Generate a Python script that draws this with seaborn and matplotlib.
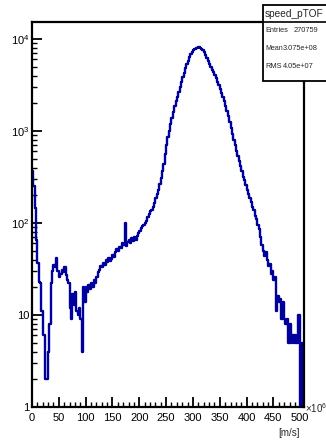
import numpy as np
import pandas as pd
import matplotlib
matplotlib.use("Agg")
import matplotlib.pyplot as plt
import matplotlib.ticker as mticker
from matplotlib.patches import Rectangle
import seaborn as sns

# ---- data (speed in units of 10^6 m/s, bin width 2.5) ----
bin_width = 2.5
x_min = 0.0
counts_000_050 = [367, 250, 145, 65, 37, 23, 22, 11, 6, 6, 2, 2, 4, 8, 22, 30, 35, 33, 42, 30]
counts_050_100 = [26, 28, 31, 29, 33, 27, 24, 22, 12, 9, 17, 13, 18, 11, 10, 12, 9, 4, 20, 14]
counts_100_150 = [20, 18, 21, 19, 22, 20, 24, 22, 26, 29, 31, 34, 33, 37, 35, 40, 38, 42, 39, 41]
counts_150_200 = [45, 43, 48, 52, 50, 55, 54, 60, 58, 100, 56, 62, 66, 60, 68, 64, 70, 66, 72, 78]
counts_200_250 = [82, 88, 92, 96, 100, 104, 115, 125, 135, 140, 150, 165, 185, 205, 230, 265, 310, 370, 440, 560]
counts_250_300 = [700, 850, 1000, 1200, 1400, 1600, 1850, 2100, 2350, 2650, 3000, 3400, 3850, 4300, 4800, 5300, 5800, 6300, 6800, 7200]
counts_300_350 = [7500, 7750, 7900, 8050, 8100, 8000, 7850, 7550, 7150, 6700, 6250, 5800, 5400, 5000, 4650, 4350, 4100, 3750, 3450, 3150]
counts_350_400 = [2850, 2600, 2350, 2100, 1850, 1650, 1450, 1250, 1080, 920, 800, 700, 610, 530, 470, 420, 370, 320, 290, 260]
counts_400_450 = [230, 205, 185, 170, 150, 140, 120, 110, 95, 85, 70, 58, 50, 44, 48, 40, 34, 36, 28, 30]
counts_450_508 = [24, 26, 11, 16, 14, 15, 9, 14, 9, 8, 9, 5, 8, 5, 6, 5, 6, 5, 10, 10, 0, 5, 3]

counts = (counts_000_050 + counts_050_100 + counts_100_150 + counts_150_200 +
          counts_200_250 + counts_250_300 + counts_300_350 + counts_350_400 +
          counts_400_450 + counts_450_508)
x_ticks = [0, 50, 100, 150, 200, 250, 300, 350, 400, 450, 500]
hist_name = "speed_pTOF"
entries = "270759"
mean_txt = "3.075e+08"
rms_txt = "4.05e+07"

n = len(counts)
edges = [float(x_min + bin_width * i) for i in range(n + 1)]
centers = [0.5 * (edges[i] + edges[i + 1]) for i in range(n)]
df = pd.DataFrame({"speed": centers, "count": counts})

W, H = 326, 441
fig = plt.figure(figsize=(W / 100, H / 100), dpi=100)
sns.set_style("white")
plt.rcParams["font.family"] = ["Liberation Sans", "DejaVu Sans"]
plt.rcParams["mathtext.fontset"] = "custom"
plt.rcParams["mathtext.rm"] = "Liberation Sans"
plt.rcParams["mathtext.it"] = "Liberation Sans"

L, R, B, T = 32 / W, 304 / W, 1 - 407 / H, 1 - 22 / H
ax = fig.add_axes([L, B, R - L, T - B])
ax.set_facecolor("white")

sns.histplot(data=df, x="speed", weights="count", bins=edges, element="step",
             fill=False, color="#00009c", linewidth=1.7, ax=ax)
ax.set_yscale("log")
ax.set_xlim(0, 507)
ax.set_ylim(1, 10 ** ((407 - 22) / 92))
ax.set_xlabel("")
ax.set_ylabel("")

# ticks (ROOT style: inward, left & bottom)
ax.set_xticks(x_ticks)
ax.xaxis.set_minor_locator(mticker.MultipleLocator(10))
ax.yaxis.set_major_locator(mticker.LogLocator(base=10, numticks=10))
ax.yaxis.set_minor_locator(mticker.LogLocator(base=10, subs=np.arange(2, 10), numticks=20))
ax.yaxis.set_minor_formatter(mticker.NullFormatter())

def yfmt(v, pos):
    e = int(round(np.log10(v)))
    if e == 0:
        return "1"
    if e == 1:
        return "10"
    return r"$10^{%d}$" % e

ax.yaxis.set_major_formatter(mticker.FuncFormatter(yfmt))
ax.tick_params(axis="both", which="major", direction="in", length=7, width=1.3,
               labelsize=8, colors="black", left=True, bottom=True,
               top=False, right=False)
ax.tick_params(axis="both", which="minor", direction="in", length=3.5, width=1.0,
               colors="black", left=True, bottom=True, top=False, right=False)
ax.tick_params(axis="x", which="major", pad=4)
ax.tick_params(axis="y", which="major", pad=2)
for s in ax.spines.values():
    s.set_color("black")
    s.set_linewidth(1.6)
    s.set_visible(True)

# axis annotations
fig.text(305 / W, 1 - 408 / H, r"$\times10^{6}$", fontsize=7, ha="left", va="center")
fig.text(300 / W, 1 - 433 / H, "[m/s]", fontsize=7, ha="right", va="center")

# stats box
bx0, by0, by1, bsep = 263, 5, 81, 22
box = Rectangle((bx0 / W, 1 - by1 / H), (W + 10 - bx0) / W, (by1 - by0) / H,
                transform=fig.transFigure, facecolor="white", edgecolor="black",
                linewidth=1.3, zorder=5, clip_on=False)
fig.add_artist(box)
fig.add_artist(plt.Line2D([bx0 / W, 1.02], [1 - bsep / H, 1 - bsep / H],
                          transform=fig.transFigure, color="black", linewidth=1.2, zorder=6))
fig.text(265 / W, 1 - 14 / H, hist_name, fontsize=7.3, ha="left", va="center", zorder=7)
fig.text(265 / W, 1 - 31 / H, "Entries", fontsize=5.3, ha="left", va="center", zorder=7)
fig.text(294 / W, 1 - 31 / H, entries, fontsize=5.3, ha="left", va="center", zorder=7)
fig.text(265 / W, 1 - 49 / H, "Mean", fontsize=5.0, ha="left", va="center", zorder=7)
fig.text(282.5 / W, 1 - 49 / H, mean_txt, fontsize=5.3, ha="left", va="center", zorder=7)
fig.text(265 / W, 1 - 67 / H, "RMS", fontsize=5.3, ha="left", va="center", zorder=7)
fig.text(283 / W, 1 - 67 / H, rms_txt, fontsize=5.3, ha="left", va="center", zorder=7)

fig.savefig("out.png", dpi=100, facecolor="white")
